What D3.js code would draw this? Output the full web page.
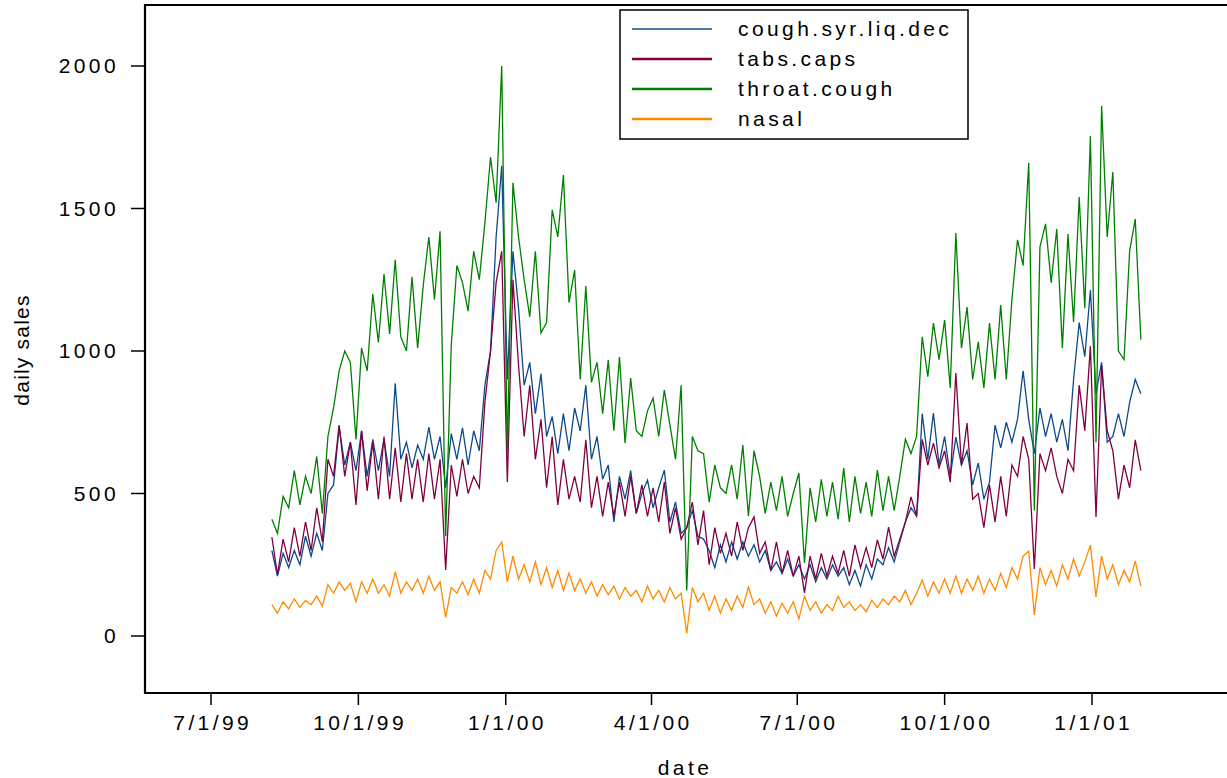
<!DOCTYPE html>
<html>
<head>
<meta charset="utf-8">
<script src="https://cdn.jsdelivr.net/npm/d3@7"></script>
<style>
  html, body { margin: 0; padding: 0; background: #fff; }
  svg text { font-family: "Liberation Sans", Arial, Helvetica, sans-serif; fill: #000; }
</style>
</head>
<body>
<svg id="chart" width="1227" height="778"></svg>
<script>
// Daily OTC sales, sampled twice a week (every 3.5 days) starting 8 Aug 1999
const firstDay = "1999-08-08";
const stepDays = 3.5;

const seriesNames = ["cough.syr.liq.dec", "tabs.caps", "throat.cough", "nasal"];

const coughSyrLiqDec = [
  300, 210, 290, 240, 300, 250, 350, 280, 360, 300,
  500, 530, 733, 600, 680, 580, 720, 560, 690, 580,
  690, 560, 887, 620, 680, 590, 670, 620, 733, 620,
  700, 520, 710, 620, 730, 600, 720, 650, 880, 1000,
  1400, 1650, 900, 1350, 1150, 880, 960, 780, 920, 700,
  770, 640, 780, 650, 800, 720, 880, 620, 700, 550,
  600, 400, 560, 480, 580, 430, 500, 547, 450, 520,
  582, 400, 470, 360, 380, 440, 350, 340, 300, 240,
  320, 260, 330, 270, 330, 280, 320, 260, 300, 230,
  260, 220, 270, 210, 250, 200, 250, 190, 240, 200,
  250, 210, 240, 180, 230, 175, 250, 200, 270, 250,
  310, 260, 330, 400, 450, 420, 780, 620, 782, 600,
  700, 560, 698, 600, 650, 530, 607, 480, 540, 740,
  660, 750, 680, 760, 930, 760, 640, 800, 700, 780,
  680, 760, 650, 900, 1100, 980, 1214, 850, 960, 680,
  700, 780, 700, 820, 900, 850
];

const tabsCaps = [
  347, 215, 340, 260, 380, 280, 400, 300, 450, 330,
  620, 560, 740, 560, 680, 460, 720, 510, 680, 480,
  700, 480, 660, 470, 640, 480, 620, 470, 640, 480,
  620, 232, 600, 490, 620, 500, 560, 520, 820, 1000,
  1240, 1350, 540, 1250, 950, 700, 880, 620, 760, 520,
  700, 460, 620, 480, 560, 470, 688, 450, 560, 420,
  540, 420, 540, 420, 560, 430, 530, 420, 520, 400,
  540, 360, 450, 340, 380, 470, 320, 440, 250, 380,
  290, 360, 280, 400, 300, 380, 418, 290, 330, 230,
  330, 220, 300, 210, 280, 151, 280, 200, 290, 210,
  280, 220, 300, 210, 320, 240, 310, 240, 337, 270,
  382, 280, 340, 400, 488, 420, 690, 600, 677, 590,
  650, 540, 923, 600, 747, 480, 500, 380, 530, 400,
  560, 420, 600, 560, 700, 620, 235, 640, 580, 660,
  560, 500, 620, 580, 880, 720, 1017, 418, 950, 720,
  650, 480, 600, 520, 688, 580
];

const throatCough = [
  410, 360, 490, 450, 580, 460, 560, 500, 630, 430,
  700, 800, 930, 1000, 960, 690, 1010, 930, 1200, 1030,
  1270, 1060, 1320, 1050, 1000, 1260, 1010, 1230, 1400, 1180,
  1420, 350, 1020, 1300, 1240, 1140, 1350, 1250, 1450, 1680,
  1520, 2000, 640, 1590, 1400, 1250, 1120, 1350, 1063, 1100,
  1495, 1400, 1617, 1170, 1284, 900, 1228, 890, 960, 780,
  968, 720, 979, 677, 905, 720, 700, 790, 835, 700,
  863, 740, 620, 880, 160, 700, 650, 640, 470, 600,
  520, 500, 600, 480, 670, 420, 650, 560, 430, 540,
  440, 560, 420, 500, 572, 256, 520, 400, 550, 420,
  540, 410, 589, 400, 560, 430, 540, 420, 582, 440,
  560, 440, 560, 690, 640, 700, 1050, 910, 1098, 970,
  1109, 870, 1414, 1010, 1154, 900, 1032, 870, 1098, 900,
  1161, 900, 1180, 1390, 1300, 1660, 440, 1365, 1446, 1240,
  1428, 1010, 1410, 1102, 1540, 1150, 1754, 680, 1860, 1400,
  1628, 1000, 970, 1351, 1463, 1040
];

const nasal = [
  110, 80, 120, 95, 130, 100, 125, 110, 140, 105,
  180, 150, 190, 160, 185, 120, 190, 150, 200, 150,
  180, 140, 225, 150, 190, 160, 200, 150, 210, 160,
  190, 65, 170, 150, 190, 145, 200, 150, 230, 200,
  300, 330, 190, 280, 200, 250, 190, 260, 180, 240,
  170, 230, 160, 221, 160, 200, 150, 190, 140, 180,
  145, 175, 130, 170, 140, 160, 120, 175, 130, 160,
  120, 170, 130, 150, 10, 170, 120, 150, 90, 140,
  80, 130, 90, 140, 100, 172, 110, 130, 80, 120,
  70, 115, 80, 120, 60, 140, 90, 120, 80, 110,
  90, 140, 100, 120, 90, 110, 85, 125, 100, 130,
  110, 140, 120, 160, 110, 150, 196, 140, 190, 150,
  200, 150, 210, 150, 200, 160, 210, 150, 200, 160,
  220, 170, 240, 200, 280, 298, 74, 240, 180, 230,
  175, 250, 200, 270, 210, 260, 319, 137, 280, 200,
  250, 180, 230, 190, 263, 175
];

const xTickLabels = ["7/1/99", "10/1/99", "1/1/00", "4/1/00", "7/1/00", "10/1/00", "1/1/01"];
const yTickValues = [0, 500, 1000, 1500, 2000];

const xTitle = "date";
const yTitle = "daily sales";

// ---- drawing ----
const W = 1227, H = 778;
const frame = { left: 145, top: 5, right: W, bottom: 693 };
const colors = ["#0d4a8c", "#800040", "#008000", "#ff8a00"];
const seriesValues = [coughSyrLiqDec, tabsCaps, throatCough, nasal];

const parseTick = d3.utcParse("%m/%d/%y");
const tickDates = xTickLabels.map(parseTick);
const fmtTick = d3.utcFormat("%-m/%-d/%y");

const x = d3.scaleUtc()
  .domain([tickDates[0], tickDates[tickDates.length - 1]])
  .range([211, 1092]);

const y = d3.scaleLinear()
  .domain([-200, 2214])
  .range([frame.bottom, frame.top]);

const start = d3.utcParse("%Y-%m-%d")(firstDay);
const DAY = 86400000;
const series = seriesNames.map((name, k) => ({
  name,
  color: colors[k],
  points: seriesValues[k].map((v, i) => ({ date: new Date(+start + i * stepDays * DAY), value: v }))
}));

const svg = d3.select("#chart");
svg.append("rect").attr("width", W).attr("height", H).attr("fill", "#fff");

const line = d3.line().x(d => x(d.date)).y(d => y(d.value));

const plot = svg.append("g");
series.forEach(s => {
  plot.append("path")
    .datum(s.points)
    .attr("fill", "none")
    .attr("stroke", s.color)
    .attr("stroke-width", 1.3)
    .attr("stroke-linejoin", "miter")
    .attr("d", line);
});

// frame: left spine, top and bottom lines
svg.append("path")
  .attr("d", `M${frame.right},${frame.top}H${frame.left}V${frame.bottom}H${frame.right}`)
  .attr("fill", "none").attr("stroke", "#000").attr("stroke-width", 2.2);

// y axis
const yAxis = svg.append("g");
yTickValues.forEach(v => {
  yAxis.append("line")
    .attr("x1", frame.left - 14).attr("x2", frame.left)
    .attr("y1", y(v)).attr("y2", y(v))
    .attr("stroke", "#000").attr("stroke-width", 1.5);
  yAxis.append("text")
    .attr("x", frame.left - 26).attr("y", y(v) + 7.5)
    .attr("text-anchor", "end")
    .attr("font-size", 21).attr("letter-spacing", 3.4)
    .text(v);
});

// x axis
const xAxis = svg.append("g");
tickDates.forEach(d => {
  xAxis.append("line")
    .attr("x1", x(d)).attr("x2", x(d))
    .attr("y1", frame.bottom).attr("y2", frame.bottom + 12)
    .attr("stroke", "#000").attr("stroke-width", 1.5);
  xAxis.append("text")
    .attr("x", x(d) + 1.7).attr("y", 730)
    .attr("text-anchor", "middle")
    .attr("font-size", 21).attr("letter-spacing", 3.4)
    .text(fmtTick(d));
});

svg.append("text")
  .attr("x", 685).attr("y", 775)
  .attr("text-anchor", "middle")
  .attr("font-size", 21).attr("letter-spacing", 3.4)
  .text(xTitle);

svg.append("text")
  .attr("transform", "translate(29,350) rotate(-90)")
  .attr("text-anchor", "middle")
  .attr("font-size", 21).attr("letter-spacing", 1.2)
  .text(yTitle);

// legend
const legend = svg.append("g");
legend.append("rect")
  .attr("x", 620).attr("y", 10).attr("width", 348).attr("height", 129)
  .attr("fill", "#fff").attr("stroke", "#000").attr("stroke-width", 1.5);
series.forEach((s, k) => {
  const ly = 29 + 30 * k;
  legend.append("line")
    .attr("x1", 632).attr("x2", 712).attr("y1", ly).attr("y2", ly)
    .attr("stroke", s.color).attr("stroke-width", k === 0 ? 1.3 : 2.4);
  legend.append("text")
    .attr("x", 738).attr("y", ly + 7)
    .attr("font-size", 21).attr("letter-spacing", 3.4)
    .text(s.name);
});
</script>
</body>
</html>
